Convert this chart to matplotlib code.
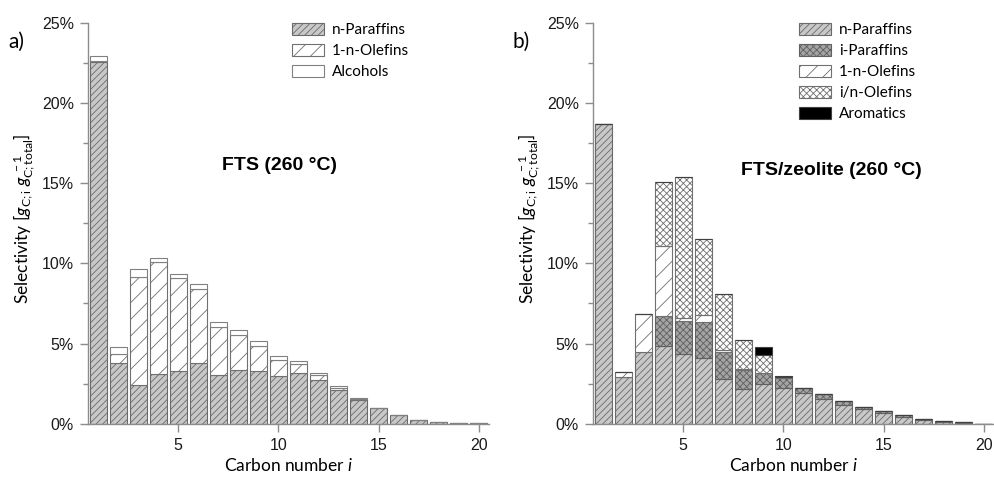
import numpy as np
import matplotlib
matplotlib.use("Agg")
import matplotlib.pyplot as plt
from matplotlib.ticker import MultipleLocator, FuncFormatter


carbon_number = list(range(1, 21))

# selectivity in %, FTS at 260 °C
fts_n_paraffins = [22.58, 3.78, 2.39, 3.08, 3.30, 3.80, 3.04, 3.35, 3.30, 2.97,
                   3.16, 2.71, 2.10, 1.48, 0.95, 0.52, 0.24, 0.11, 0.05, 0.02]
fts_olefins = [0.05, 0.55, 6.76, 7.00, 5.78, 4.60, 2.99, 2.18, 1.56, 1.00,
               0.56, 0.31, 0.14, 0.08, 0.03, 0.02, 0.01, 0.0, 0.0, 0.0]
fts_alcohols = [0.28, 0.43, 0.48, 0.23, 0.25, 0.29, 0.29, 0.29, 0.28, 0.25,
                0.21, 0.16, 0.13, 0.06, 0.02, 0.0, 0.0, 0.0, 0.0, 0.0]

# selectivity in %, FTS/zeolite at 260 °C
zeo_n_paraffins = [18.68, 2.89, 4.45, 4.82, 4.35, 4.07, 2.77, 2.14, 2.46, 2.21,
                   1.91, 1.52, 1.19, 0.90, 0.67, 0.42, 0.25, 0.12, 0.07, 0.0]
zeo_i_paraffins = [0.0, 0.0, 0.0, 1.88, 2.05, 2.27, 1.68, 1.21, 0.68, 0.62,
                   0.30, 0.31, 0.22, 0.16, 0.12, 0.10, 0.06, 0.05, 0.04, 0.0]
zeo_olefins = [0.0, 0.31, 2.41, 4.40, 0.17, 0.44, 0.12, 0.05, 0.05, 0.06,
               0.0, 0.0, 0.0, 0.0, 0.0, 0.0, 0.0, 0.0, 0.0, 0.0]
zeo_in_olefins = [0.0, 0.0, 0.0, 3.97, 8.79, 4.75, 3.50, 1.80, 1.11, 0.0,
                  0.0, 0.0, 0.0, 0.0, 0.0, 0.0, 0.0, 0.0, 0.0, 0.0]
zeo_aromatics = [0.0, 0.0, 0.0, 0.0, 0.0, 0.0, 0.0, 0.0, 0.46, 0.06,
                 0.0, 0.0, 0.0, 0.0, 0.0, 0.0, 0.0, 0.0, 0.0, 0.0]

plt.rcParams['font.family'] = ['Liberation Sans', 'DejaVu Sans']
plt.rcParams['hatch.linewidth'] = 0.6
plt.rcParams['mathtext.fontset'] = 'custom'
plt.rcParams['mathtext.rm'] = 'Lato'
plt.rcParams['mathtext.it'] = 'Lato:italic'

axis_grey = '#8c8c8c'
styles = {
    'n-Paraffins': dict(color='#c8c8c8', hatch='/////', edgecolor='#6a6a6a'),
    'i-Paraffins': dict(color='#a4a4a4', hatch='xxxxx', edgecolor='#606060'),
    '1-n-Olefins': dict(color='white', hatch='//', edgecolor='#707070'),
    'i/n-Olefins': dict(color='white', hatch='xxxxx', edgecolor='#707070'),
    'Aromatics': dict(color='black', hatch=None, edgecolor='#404040'),
    'Alcohols': dict(color='white', hatch=None, edgecolor='#808080'),
}


def stacked_bars(ax, parts):
    bottom = np.zeros(len(carbon_number))
    for name, values in parts:
        st = styles[name]
        ax.bar(carbon_number, values, width=0.85, bottom=bottom,
               color=st['color'], hatch=st['hatch'], edgecolor=st['edgecolor'],
               linewidth=0.8, label=name)
        bottom = bottom + np.array(values)


def style_axis(ax):
    ax.set_xlim(0.5, 20.5)
    ax.set_ylim(0, 25)
    for side in ['top', 'right']:
        ax.spines[side].set_visible(False)
    for side in ['left', 'bottom']:
        ax.spines[side].set_color(axis_grey)
        ax.spines[side].set_linewidth(1.0)
    ax.set_xticks([5, 10, 15, 20])
    ax.yaxis.set_major_locator(MultipleLocator(5))
    ax.yaxis.set_minor_locator(MultipleLocator(2.5))
    ax.yaxis.set_major_formatter(FuncFormatter(lambda v, p: '%d%%' % v))
    ax.tick_params(which='major', direction='out', length=6, width=1,
                   color=axis_grey, labelsize=11.5, labelcolor='#1a1a1a', pad=4)
    ax.tick_params(which='minor', direction='out', length=3.5, width=1,
                   color=axis_grey)
    ax.set_xlabel('Carbon number $\\mathit{i}$', fontsize=12.5,
                  family='Lato', labelpad=3)
    ax.set_ylabel('Selectivity [$\\mathit{g}_\\mathrm{C;i}\\ \\mathit{g}_\\mathrm{C;total}^{\\ -1}$]',
                  fontsize=12.5, family='Lato')
    ax.yaxis.set_label_coords(-0.128, 0.51)
    ax.legend(loc='upper left', frameon=False, prop=dict(family='Lato', size=11),
              handlelength=2.1, handleheight=0.8, labelspacing=0.45,
              handletextpad=0.5, borderpad=0, borderaxespad=0)


fig = plt.figure(figsize=(9.95, 4.83), dpi=100)
ax_a = fig.add_axes([88 / 995, 59.3 / 483, 401 / 995, 401 / 483])
ax_b = fig.add_axes([593 / 995, 59.3 / 483, 401 / 995, 401 / 483])

stacked_bars(ax_a, [('n-Paraffins', fts_n_paraffins),
                    ('1-n-Olefins', fts_olefins),
                    ('Alcohols', fts_alcohols)])
stacked_bars(ax_b, [('n-Paraffins', zeo_n_paraffins),
                    ('i-Paraffins', zeo_i_paraffins),
                    ('1-n-Olefins', zeo_olefins),
                    ('i/n-Olefins', zeo_in_olefins),
                    ('Aromatics', zeo_aromatics)])

style_axis(ax_a)
style_axis(ax_b)
ax_a.get_legend().set_bbox_to_anchor((292 / 995, 1 - 23 / 483), transform=fig.transFigure)
ax_b.get_legend().set_bbox_to_anchor((799 / 995, 1 - 23 / 483), transform=fig.transFigure)

ax_a.text(10.05, 16.1, 'FTS (260 °C)', fontsize=14, fontweight='bold',
          ha='center', va='center')
ax_b.text(12.37, 15.8, 'FTS/zeolite (260 °C)', fontsize=14, fontweight='bold',
          ha='center', va='center')

fig.text(8 / 995, 1 - 42 / 483, 'a)', fontsize=15, family='Lato', va='center')
fig.text(512 / 995, 1 - 42 / 483, 'b)', fontsize=15, family='Lato', va='center')

fig.savefig('out.png', dpi=100)
